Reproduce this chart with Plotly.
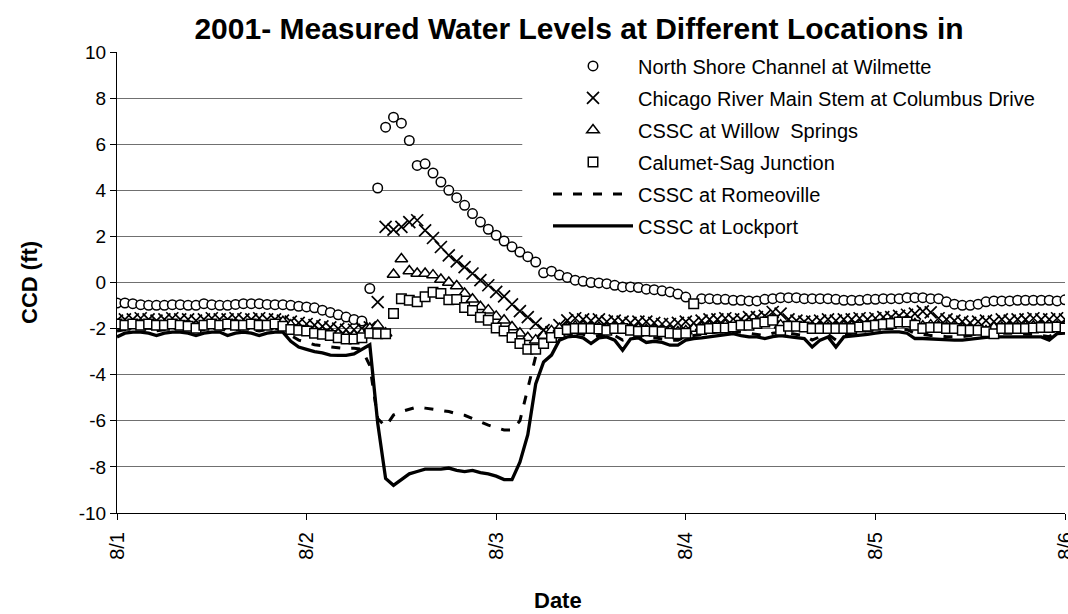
import plotly.graph_objects as go

# hourly time index from 8/1 00:00 to 8/6 00:00
hours = list(range(121))
day_ticks = [0, 24, 48, 72, 96, 120]
day_labels = ["8/1", "8/2", "8/3", "8/4", "8/5", "8/6"]
level_ticks = [-10, -8, -6, -4, -2, 0, 2, 4, 6, 8, 10]
level_labels = ["-10", "-8", "-6", "-4", "-2", "0", "2", "4", "6", "8", "10"]

wilmette = [
    -0.89, -0.89, -0.92, -0.96, -0.99, -0.99, -0.99, -0.96, -0.96, -0.99,
    -0.99, -0.92, -0.96, -0.99, -0.99, -0.95, -0.92, -0.92, -0.92, -0.95,
    -0.96, -0.96, -0.99, -1.03, -1.06, -1.10, -1.20, -1.30, -1.40, -1.50,
    -1.60, -1.67, -0.26, 4.10, 6.74, 7.17, 6.91, 6.16, 5.08, 5.15,
    4.75, 4.36, 4.00, 3.68, 3.35, 2.99, 2.62, 2.31, 2.05, 1.80,
    1.55, 1.32, 1.12, 0.89, 0.42, 0.49, 0.32, 0.22, 0.10, 0.05,
    0.00, -0.02, -0.05, -0.12, -0.19, -0.19, -0.22, -0.29, -0.31, -0.36,
    -0.41, -0.50, -0.63, None, -0.70, -0.70, -0.73, -0.73, -0.77, -0.77,
    -0.80, -0.80, -0.73, -0.70, -0.66, -0.66, -0.66, -0.70, -0.70, -0.70,
    -0.70, -0.73, -0.77, -0.77, -0.77, -0.73, -0.73, -0.70, -0.70, -0.70,
    -0.66, -0.66, -0.66, -0.70, -0.70, -0.84, -0.94, -0.99, -0.99, -0.94,
    -0.84, -0.80, -0.80, -0.80, -0.77, -0.77, -0.77, -0.77, -0.77, -0.80,
    -0.75,
]

columbus = [
    -1.65, -1.60, -1.60, -1.55, -1.60, -1.65, -1.60, -1.55, -1.60, -1.60,
    -1.65, -1.60, -1.55, -1.60, -1.60, -1.55, -1.60, -1.60, -1.55, -1.60,
    -1.60, -1.65, -1.70, -1.75, -1.80, -1.85, -1.90, -1.95, -2.00, -2.05,
    -2.05, -2.00, -1.95, -0.85, 2.41, 2.29, 2.41, 2.62, 2.70, 2.26,
    1.93, 1.54, 1.18, 0.92, 0.67, 0.39, 0.10, -0.12, -0.41, -0.60,
    -0.95, -1.24, -1.50, -1.78, -2.07, -2.15, -1.85, -1.64, -1.55, -1.60,
    -1.65, -1.60, -1.70, -1.65, -1.70, -1.75, -1.70, -1.70, -1.75, -1.80,
    -1.80, -1.75, -1.70, -1.75, -1.65, -1.60, -1.60, -1.55, -1.60, -1.60,
    -1.50, -1.50, -1.45, -1.28, -1.35, -1.60, -1.65, -1.70, -1.70, -1.65,
    -1.60, -1.65, -1.60, -1.60, -1.55, -1.60, -1.55, -1.50, -1.50, -1.45,
    -1.40, -1.35, -1.25, -1.30, -1.55, -1.60, -1.65, -1.70, -1.75, -1.70,
    -1.65, -1.70, -1.60, -1.65, -1.60, -1.60, -1.55, -1.60, -1.60, -1.55,
    -1.60,
]

willow_springs = [
    -1.85, -1.90, -1.85, -1.85, -1.90, -1.90, -1.85, -1.85, -1.90, -1.85,
    -1.90, -1.85, -1.85, -1.90, -1.85, -1.85, -1.90, -1.85, -1.85, -1.90,
    -1.85, -1.70, -1.85, -2.00, -2.05, -2.10, -2.15, -2.20, -2.25, -2.30,
    -2.30, -2.20, -2.00, -1.86, -2.20, 0.35, 1.02, 0.50, 0.39, 0.39,
    0.32, 0.13, 0.00, -0.15, -0.48, -0.73, -1.05, -1.20, -1.47, -1.64,
    -1.93, -2.20, -2.40, -2.50, -2.30, -2.10, -2.00, -1.95, -1.90, -1.90,
    -1.95, -1.95, -2.00, -1.95, -2.00, -2.05, -2.00, -2.05, -2.05, -2.10,
    -2.10, -2.15, -2.10, -2.00, -1.95, -1.90, -1.90, -1.85, -1.80, -1.80,
    -1.75, -1.70, -1.65, -1.60, -1.85, -1.85, -1.90, -1.90, -1.95, -1.95,
    -1.95, -1.95, -1.90, -1.90, -1.85, -1.85, -1.80, -1.75, -1.70, -1.65,
    -1.70, -1.80, -1.90, -1.85, -1.90, -1.95, -2.00, -2.00, -2.05, -2.10,
    -2.10, -1.95, -1.95, -1.95, -1.95, -1.90, -1.90, -1.90, -1.85, -1.90,
    -1.90,
]

calumet_sag = [
    -1.80, -1.85, -1.80, -1.85, -1.80, -1.85, -1.85, -1.80, -1.85, -1.90,
    -1.99, -1.85, -1.80, -1.85, -1.80, -1.85, -1.85, -1.80, -1.85, -1.85,
    -1.80, -1.90, -2.04, -2.07, -2.10, -2.20, -2.25, -2.30, -2.40, -2.45,
    -2.45, -2.40, -2.20, -2.22, -2.22, -1.35, -0.70, -0.77, -0.84, -0.62,
    -0.42, -0.48, -0.75, -0.74, -1.08, -1.22, -1.51, -1.64, -1.97, -2.10,
    -2.39, -2.65, -2.90, -2.90, -2.65, -2.39, -2.19, -2.04, -2.00, -2.00,
    -2.00, -2.02, -2.07, -2.00, -2.00, -2.07, -2.12, -2.10, -2.12, -2.14,
    -2.20, -2.22, -2.20, -0.92, -2.04, -2.00, -1.97, -1.97, -1.93, -1.86,
    -1.86, -1.78, -1.71, -1.64, -2.07, -1.90, -1.90, -1.93, -2.00, -2.00,
    -2.00, -2.00, -2.00, -2.00, -1.93, -1.90, -1.86, -1.81, -1.78, -1.71,
    -1.71, -1.86, -2.00, -1.95, -1.95, -2.00, -2.00, -2.07, -2.07, -2.07,
    -2.14, -2.22, -2.00, -2.00, -2.00, -2.00, -1.97, -1.95, -1.95, -1.93,
    -1.97,
]

romeoville = [
    -2.10, -2.05, -2.00, -2.00, -2.05, -2.10, -2.05, -2.00, -2.00, -2.05,
    -2.10, -2.05, -2.00, -2.00, -2.10, -2.05, -2.00, -2.05, -2.10, -2.05,
    -2.00, -2.05, -2.30, -2.50, -2.60, -2.70, -2.75, -2.80, -2.85, -2.87,
    -2.85, -2.90, -3.60, -5.90, -6.25, -5.75, -5.60, -5.50, -5.40, -5.45,
    -5.50, -5.55, -5.60, -5.70, -5.76, -5.90, -6.05, -6.19, -6.30, -6.40,
    -6.40, -6.00, -4.60, -3.20, -2.60, -2.40, -2.30, -2.25, -2.20, -2.25,
    -2.35, -2.30, -2.25, -2.30, -2.50, -2.35, -2.30, -2.40, -2.40, -2.45,
    -2.50, -2.50, -2.35, -2.30, -2.25, -2.20, -2.15, -2.10, -2.10, -2.15,
    -2.20, -2.25, -2.30, -2.20, -2.15, -2.20, -2.25, -2.30, -2.50, -2.35,
    -2.25, -2.50, -2.25, -2.20, -2.15, -2.10, -2.05, -2.00, -2.00, -2.00,
    -2.05, -2.20, -2.25, -2.30, -2.30, -2.35, -2.35, -2.35, -2.30, -2.25,
    -2.20, -2.20, -2.20, -2.20, -2.20, -2.25, -2.25, -2.30, -2.35, -2.15,
    -2.10,
]

lockport = [
    -2.36, -2.20, -2.15, -2.15, -2.20, -2.30, -2.20, -2.15, -2.15, -2.20,
    -2.30, -2.20, -2.15, -2.15, -2.30, -2.20, -2.15, -2.20, -2.30, -2.20,
    -2.15, -2.15, -2.55, -2.80, -2.90, -3.00, -3.05, -3.15, -3.16, -3.16,
    -3.10, -2.90, -2.70, -6.10, -8.50, -8.80, -8.55, -8.30, -8.20, -8.10,
    -8.10, -8.10, -8.05, -8.15, -8.20, -8.15, -8.25, -8.30, -8.40, -8.55,
    -8.55, -7.80, -6.60, -4.40, -3.45, -3.15, -2.50, -2.36, -2.33, -2.40,
    -2.65, -2.40, -2.36, -2.50, -2.94, -2.45, -2.40, -2.60, -2.55, -2.60,
    -2.72, -2.72, -2.50, -2.43, -2.40, -2.36, -2.30, -2.25, -2.22, -2.30,
    -2.36, -2.36, -2.43, -2.35, -2.30, -2.35, -2.40, -2.43, -2.80, -2.50,
    -2.36, -2.80, -2.36, -2.33, -2.30, -2.25, -2.20, -2.15, -2.14, -2.14,
    -2.20, -2.43, -2.43, -2.45, -2.45, -2.50, -2.50, -2.50, -2.45, -2.40,
    -2.38, -2.36, -2.36, -2.36, -2.36, -2.36, -2.36, -2.36, -2.50, -2.22,
    -2.20,
]

FONT = "Liberation Sans, Arial, sans-serif"

fig = go.Figure()

fig.add_trace(go.Scatter(
    x=hours, y=romeoville, mode="lines", name="CSSC at Romeoville",
    legendgroup="g5", legendrank=5,
    line=dict(color="black", width=3, dash="9px,11px")))
fig.add_trace(go.Scatter(
    x=hours, y=lockport, mode="lines", name="CSSC at Lockport",
    legendgroup="g6", legendrank=6,
    line=dict(color="black", width=3.3)))
fig.add_trace(go.Scatter(
    x=hours, y=wilmette, mode="markers", name="North Shore Channel at Wilmette",
    legendgroup="g1", legendrank=1,
    marker=dict(symbol="circle", size=9.5, color="white",
                line=dict(color="black", width=1.5))))
fig.add_trace(go.Scatter(
    x=hours, y=columbus, mode="markers",
    name="Chicago River Main Stem at Columbus Drive",
    legendgroup="g2", legendrank=2,
    marker=dict(symbol="x-thin", size=12, color="black",
                line=dict(color="black", width=1.7))))
fig.add_trace(go.Scatter(
    x=hours, y=willow_springs, mode="markers",
    name="CSSC at Willow\u00a0 Springs",
    legendgroup="g3", legendrank=3,
    marker=dict(symbol="triangle-up", size=11, color="white",
                line=dict(color="black", width=1.5))))
fig.add_trace(go.Scatter(
    x=hours, y=calumet_sag, mode="markers", name="Calumet-Sag Junction",
    legendgroup="g4", legendrank=4,
    marker=dict(symbol="square", size=9.5, color="white",
                line=dict(color="black", width=1.5))))

# white panel behind the legend (hides gridlines there)
fig.add_shape(type="rect", xref="x", yref="y", x0=51.3, x1=120, y0=1.2, y1=9.75,
              fillcolor="white", line=dict(width=0), layer="between")

fig.add_annotation(text="<b>CCD (ft)</b>", xref="paper", yref="paper",
                   x=(30 - 117) / 948, y=0.499, textangle=-90, showarrow=False,
                   xanchor="center", yanchor="middle", font=dict(size=22))
fig.add_annotation(text="<b>Date</b>", xref="paper", yref="paper",
                   x=(558 - 117) / 948, y=(513 - 600) / 461, showarrow=False,
                   xanchor="center", yanchor="middle", font=dict(size=22))

fig.update_layout(
    width=1068, height=614,
    margin=dict(l=117, r=3, t=52, b=101),
    paper_bgcolor="white", plot_bgcolor="white",
    font=dict(family=FONT, color="black", size=19),
    title=dict(text="<b>2001- Measured Water Levels at Different Locations in</b>",
               x=579 / 1068, xanchor="center", xref="container",
               y=1 - 28 / 614, yref="container", yanchor="middle",
               font=dict(size=30)),
    showlegend=True,
    legend=dict(x=(548 - 117) / 948, y=1.012, xanchor="left", yanchor="top",
                bgcolor="rgba(0,0,0,0)", font=dict(size=20), itemwidth=80,
                tracegroupgap=3, traceorder="grouped"),
    xaxis=dict(range=[0, 120], tickvals=day_ticks, ticktext=day_labels,
               tickangle=-90, showgrid=False, showline=True, linecolor="black",
               linewidth=1, ticks="outside", ticklen=6, tickcolor="black",
               zeroline=False, tickfont=dict(size=20), automargin=False,
               ticklabeloverflow="allow", ticklabelstandoff=4),
    yaxis=dict(range=[-10, 10], tickvals=level_ticks, ticktext=level_labels,
               showgrid=True, gridcolor="#707070", gridwidth=1, showline=True,
               linecolor="black", linewidth=1, ticks="outside", ticklen=6,
               tickcolor="black", zeroline=False, tickfont=dict(size=19),
               automargin=False),
)

fig.write_html("out.html")
